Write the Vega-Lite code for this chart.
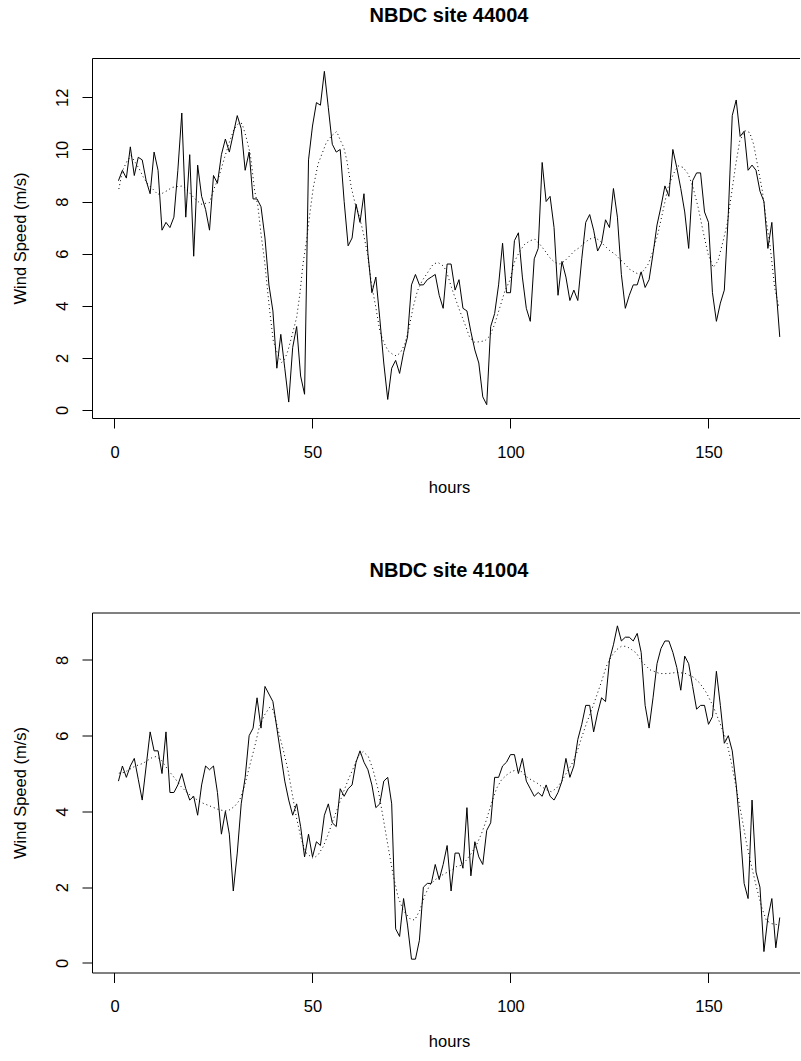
{
  "$schema": "https://vega.github.io/schema/vega-lite/v6.json",
  "background": "white",
  "padding": {"left": 12, "top": 6, "right": 0, "bottom": 0},
  "config": {
    "font": "Liberation Sans",
    "view": {"stroke": null},
    "axis": {"domainColor": "black", "tickColor": "black", "labelColor": "black", "titleColor": "black", "grid": false,
      "labelFont": "Liberation Sans", "titleFont": "Liberation Sans", "labelFontSize": 16.5, "titleFontSize": 16.5,
      "titleFontWeight": "normal", "tickSize": 10, "domainWidth": 1, "tickWidth": 1, "labelFlush": false, "labelOverlap": false},
    "title": {"font": "Liberation Sans", "fontSize": 20, "fontWeight": "bold", "color": "black"}
  },
  "datasets": {
    "top_obs": [
      {"h":1,"v":8.8},{"h":2,"v":9.2},{"h":3,"v":8.9},{"h":4,"v":10.1},{"h":5,"v":9.0},{"h":6,"v":9.7},{"h":7,"v":9.6},{"h":8,"v":8.8},{"h":9,"v":8.3},{"h":10,"v":9.9},
      {"h":11,"v":9.2},{"h":12,"v":6.9},{"h":13,"v":7.2},{"h":14,"v":7.0},{"h":15,"v":7.4},{"h":16,"v":9.2},{"h":17,"v":11.4},{"h":18,"v":7.4},{"h":19,"v":9.8},{"h":20,"v":5.9},
      {"h":21,"v":9.4},{"h":22,"v":8.2},{"h":23,"v":7.7},{"h":24,"v":6.9},{"h":25,"v":9.0},{"h":26,"v":8.7},{"h":27,"v":9.8},{"h":28,"v":10.4},{"h":29,"v":9.9},{"h":30,"v":10.6},
      {"h":31,"v":11.3},{"h":32,"v":10.8},{"h":33,"v":9.2},{"h":34,"v":9.9},{"h":35,"v":8.1},{"h":36,"v":8.1},{"h":37,"v":7.8},{"h":38,"v":6.6},{"h":39,"v":4.8},{"h":40,"v":3.8},
      {"h":41,"v":1.6},{"h":42,"v":2.9},{"h":43,"v":1.6},{"h":44,"v":0.3},{"h":45,"v":2.4},{"h":46,"v":3.2},{"h":47,"v":1.3},{"h":48,"v":0.6},{"h":49,"v":9.6},{"h":50,"v":10.9},
      {"h":51,"v":11.8},{"h":52,"v":11.7},{"h":53,"v":13.0},{"h":54,"v":11.6},{"h":55,"v":10.2},{"h":56,"v":9.9},{"h":57,"v":10.0},{"h":58,"v":8.0},{"h":59,"v":6.3},{"h":60,"v":6.6},
      {"h":61,"v":7.9},{"h":62,"v":7.2},{"h":63,"v":8.3},{"h":64,"v":6.0},{"h":65,"v":4.5},{"h":66,"v":5.1},{"h":67,"v":3.5},{"h":68,"v":1.8},{"h":69,"v":0.4},{"h":70,"v":1.6},
      {"h":71,"v":1.9},{"h":72,"v":1.4},{"h":73,"v":2.2},{"h":74,"v":2.8},{"h":75,"v":4.8},{"h":76,"v":5.2},{"h":77,"v":4.8},{"h":78,"v":4.8},{"h":79,"v":5.0},{"h":80,"v":5.1},
      {"h":81,"v":5.2},{"h":82,"v":4.4},{"h":83,"v":3.9},{"h":84,"v":5.6},{"h":85,"v":5.6},{"h":86,"v":4.6},{"h":87,"v":5.0},{"h":88,"v":3.9},{"h":89,"v":3.8},{"h":90,"v":3.0},
      {"h":91,"v":2.3},{"h":92,"v":1.8},{"h":93,"v":0.5},{"h":94,"v":0.2},{"h":95,"v":3.2},{"h":96,"v":3.7},{"h":97,"v":4.8},{"h":98,"v":6.4},{"h":99,"v":4.5},{"h":100,"v":4.5},
      {"h":101,"v":6.5},{"h":102,"v":6.8},{"h":103,"v":5.1},{"h":104,"v":3.9},{"h":105,"v":3.4},{"h":106,"v":5.8},{"h":107,"v":6.2},{"h":108,"v":9.5},{"h":109,"v":8.0},{"h":110,"v":8.2},
      {"h":111,"v":7.0},{"h":112,"v":4.4},{"h":113,"v":5.7},{"h":114,"v":5.1},{"h":115,"v":4.2},{"h":116,"v":4.6},{"h":117,"v":4.2},{"h":118,"v":5.8},{"h":119,"v":7.2},{"h":120,"v":7.5},
      {"h":121,"v":6.9},{"h":122,"v":6.1},{"h":123,"v":6.4},{"h":124,"v":7.3},{"h":125,"v":7.0},{"h":126,"v":8.5},{"h":127,"v":7.4},{"h":128,"v":5.2},{"h":129,"v":3.9},{"h":130,"v":4.4},
      {"h":131,"v":4.8},{"h":132,"v":4.8},{"h":133,"v":5.3},{"h":134,"v":4.7},{"h":135,"v":5.0},{"h":136,"v":6.0},{"h":137,"v":7.1},{"h":138,"v":7.8},{"h":139,"v":8.6},{"h":140,"v":8.2},
      {"h":141,"v":10.0},{"h":142,"v":9.3},{"h":143,"v":8.5},{"h":144,"v":7.6},{"h":145,"v":6.2},{"h":146,"v":8.8},{"h":147,"v":9.1},{"h":148,"v":9.1},{"h":149,"v":7.6},{"h":150,"v":7.2},
      {"h":151,"v":4.5},{"h":152,"v":3.4},{"h":153,"v":4.1},{"h":154,"v":4.6},{"h":155,"v":7.5},{"h":156,"v":11.3},{"h":157,"v":11.9},{"h":158,"v":10.5},{"h":159,"v":10.7},{"h":160,"v":9.2},
      {"h":161,"v":9.4},{"h":162,"v":9.2},{"h":163,"v":8.4},{"h":164,"v":8.0},{"h":165,"v":6.2},{"h":166,"v":7.2},{"h":167,"v":4.8},{"h":168,"v":2.8}
    ],
    "top_smooth": [
      {"h":1.1,"v":8.48},{"h":2.0,"v":9.18},{"h":3.2,"v":9.56},{"h":4.2,"v":9.76},{"h":6.3,"v":9.24},{"h":7.2,"v":8.96},{"h":8.2,"v":8.71},{"h":9.3,"v":8.54},{"h":10.9,"v":8.28},{"h":12.0,"v":8.31},
      {"h":13.2,"v":8.41},{"h":14.5,"v":8.54},{"h":15.6,"v":8.57},{"h":17.3,"v":8.6},{"h":18.5,"v":8.41},{"h":20.4,"v":8.09},{"h":21.9,"v":7.9},{"h":24.0,"v":7.96},{"h":25.1,"v":8.48},{"h":26.3,"v":8.92},
      {"h":27.8,"v":9.69},{"h":29.0,"v":10.27},{"h":30.1,"v":10.75},{"h":31.3,"v":11.0},{"h":32.2,"v":11.0},{"h":33.2,"v":10.5},{"h":34.3,"v":9.82},{"h":35.4,"v":8.41},{"h":36.2,"v":7.84},{"h":37.0,"v":6.75},
      {"h":37.9,"v":5.72},{"h":39.1,"v":3.93},{"h":40.1,"v":2.65},{"h":40.9,"v":2.27},{"h":42.2,"v":1.82},{"h":43.0,"v":1.95},{"h":43.8,"v":2.27},{"h":44.9,"v":2.9},{"h":46.0,"v":3.55},{"h":46.8,"v":4.44},
      {"h":47.6,"v":5.6},{"h":48.5,"v":6.5},{"h":49.3,"v":7.5},{"h":50.2,"v":8.54},{"h":51.4,"v":9.44},{"h":52.7,"v":9.95},{"h":53.5,"v":10.27},{"h":54.8,"v":10.52},{"h":56.1,"v":10.69},{"h":57.1,"v":10.33},
      {"h":57.9,"v":10.08},{"h":58.7,"v":9.56},{"h":59.8,"v":8.54},{"h":60.8,"v":7.9},{"h":61.9,"v":7.39},{"h":62.9,"v":6.75},{"h":63.9,"v":5.98},{"h":64.9,"v":4.83},{"h":66.0,"v":3.93},{"h":67.0,"v":3.03},
      {"h":68.0,"v":2.59},{"h":69.1,"v":2.27},{"h":70.2,"v":2.14},{"h":71.2,"v":2.07},{"h":72.2,"v":2.2},{"h":73.3,"v":2.52},{"h":74.4,"v":3.16},{"h":75.4,"v":3.93},{"h":76.5,"v":4.57},{"h":77.7,"v":4.96},
      {"h":78.8,"v":5.21},{"h":80.5,"v":5.6},{"h":81.7,"v":5.66},{"h":83.0,"v":5.53},{"h":83.8,"v":5.34},{"h":85.1,"v":4.7},{"h":86.0,"v":4.31},{"h":87.2,"v":3.8},{"h":88.5,"v":3.29},{"h":89.7,"v":2.78},
      {"h":91.0,"v":2.59},{"h":92.2,"v":2.62},{"h":93.5,"v":2.65},{"h":94.8,"v":2.84},{"h":96.0,"v":3.29},{"h":97.3,"v":3.93},{"h":98.6,"v":4.57},{"h":99.8,"v":4.96},{"h":101.1,"v":5.72},{"h":102.4,"v":6.11},
      {"h":103.6,"v":6.36},{"h":104.9,"v":6.49},{"h":106.1,"v":6.56},{"h":107.4,"v":6.36},{"h":108.7,"v":6.11},{"h":109.9,"v":5.85},{"h":111.2,"v":5.66},{"h":112.5,"v":5.6},{"h":113.7,"v":5.72},{"h":115.0,"v":5.92},
      {"h":116.2,"v":6.11},{"h":117.5,"v":6.24},{"h":118.8,"v":6.43},{"h":120.0,"v":6.56},{"h":121.3,"v":6.62},{"h":122.6,"v":6.49},{"h":123.8,"v":6.3},{"h":125.1,"v":6.11},{"h":126.4,"v":5.98},{"h":127.6,"v":5.79},
      {"h":128.9,"v":5.6},{"h":130.1,"v":5.4},{"h":131.4,"v":5.28},{"h":132.5,"v":5.2},{"h":133.5,"v":5.33},{"h":134.8,"v":5.6},{"h":136.0,"v":6.11},{"h":137.3,"v":6.81},{"h":138.5,"v":7.64},{"h":139.8,"v":8.54},
      {"h":141.1,"v":9.05},{"h":142.3,"v":9.37},{"h":143.6,"v":9.31},{"h":144.9,"v":9.05},{"h":146.1,"v":8.54},{"h":147.4,"v":7.77},{"h":148.6,"v":6.88},{"h":149.9,"v":5.98},{"h":151.2,"v":5.47},{"h":152.4,"v":5.72},
      {"h":153.7,"v":6.49},{"h":154.7,"v":7.13},{"h":155.8,"v":8.28},{"h":156.9,"v":9.44},{"h":157.9,"v":10.33},{"h":159.2,"v":10.72},{"h":160.4,"v":10.65},{"h":161.4,"v":10.2},{"h":162.5,"v":9.31},{"h":163.6,"v":8.41},
      {"h":164.6,"v":7.26},{"h":165.6,"v":6.24},{"h":166.7,"v":4.7},{"h":167.8,"v":3.93}
    ],
    "bot_obs": [
      {"h":1,"v":4.8},{"h":2,"v":5.2},{"h":3,"v":4.9},{"h":4,"v":5.2},{"h":5,"v":5.4},{"h":6,"v":4.85},{"h":7,"v":4.3},{"h":8,"v":5.2},{"h":9,"v":6.1},{"h":10,"v":5.6},
      {"h":11,"v":5.6},{"h":12,"v":5.0},{"h":13,"v":6.1},{"h":14,"v":4.5},{"h":15,"v":4.5},{"h":16,"v":4.7},{"h":17,"v":5.0},{"h":18,"v":4.6},{"h":19,"v":4.3},{"h":20,"v":4.4},
      {"h":21,"v":3.9},{"h":22,"v":4.7},{"h":23,"v":5.2},{"h":24,"v":5.1},{"h":25,"v":5.2},{"h":26,"v":4.5},{"h":27,"v":3.4},{"h":28,"v":4.0},{"h":29,"v":3.4},{"h":30,"v":1.9},
      {"h":31,"v":2.9},{"h":32,"v":4.2},{"h":33,"v":4.9},{"h":34,"v":6.0},{"h":35,"v":6.2},{"h":36,"v":7.0},{"h":37,"v":6.2},{"h":38,"v":7.3},{"h":39,"v":7.1},{"h":40,"v":6.9},
      {"h":41,"v":6.2},{"h":42,"v":5.5},{"h":43,"v":4.8},{"h":44,"v":4.3},{"h":45,"v":3.9},{"h":46,"v":4.2},{"h":47,"v":3.6},{"h":48,"v":2.8},{"h":49,"v":3.4},{"h":50,"v":2.8},
      {"h":51,"v":3.2},{"h":52,"v":3.1},{"h":53,"v":3.9},{"h":54,"v":4.2},{"h":55,"v":3.7},{"h":56,"v":3.6},{"h":57,"v":4.6},{"h":58,"v":4.4},{"h":59,"v":4.6},{"h":60,"v":4.7},
      {"h":61,"v":5.3},{"h":62,"v":5.6},{"h":63,"v":5.3},{"h":64,"v":5.1},{"h":65,"v":4.7},{"h":66,"v":4.1},{"h":67,"v":4.2},{"h":68,"v":4.8},{"h":69,"v":4.9},{"h":70,"v":4.2},
      {"h":71,"v":0.9},{"h":72,"v":0.7},{"h":73,"v":1.7},{"h":74,"v":1.0},{"h":75,"v":0.1},{"h":76,"v":0.1},{"h":77,"v":0.6},{"h":78,"v":2.0},{"h":79,"v":2.1},{"h":80,"v":2.1},
      {"h":81,"v":2.6},{"h":82,"v":2.2},{"h":83,"v":2.6},{"h":84,"v":3.1},{"h":85,"v":1.9},{"h":86,"v":2.9},{"h":87,"v":2.9},{"h":88,"v":2.5},{"h":89,"v":4.1},{"h":90,"v":2.3},
      {"h":91,"v":3.2},{"h":92,"v":2.8},{"h":93,"v":2.6},{"h":94,"v":3.5},{"h":95,"v":3.7},{"h":96,"v":4.9},{"h":97,"v":4.9},{"h":98,"v":5.2},{"h":99,"v":5.3},{"h":100,"v":5.5},
      {"h":101,"v":5.5},{"h":102,"v":5.0},{"h":103,"v":5.4},{"h":104,"v":4.8},{"h":105,"v":4.6},{"h":106,"v":4.4},{"h":107,"v":4.5},{"h":108,"v":4.4},{"h":109,"v":4.7},{"h":110,"v":4.4},
      {"h":111,"v":4.3},{"h":112,"v":4.5},{"h":113,"v":4.8},{"h":114,"v":5.4},{"h":115,"v":4.9},{"h":116,"v":5.2},{"h":117,"v":5.9},{"h":118,"v":6.3},{"h":119,"v":6.8},{"h":120,"v":6.8},
      {"h":121,"v":6.1},{"h":122,"v":6.6},{"h":123,"v":7.0},{"h":124,"v":6.9},{"h":125,"v":8.0},{"h":126,"v":8.4},{"h":127,"v":8.9},{"h":128,"v":8.5},{"h":129,"v":8.6},{"h":130,"v":8.6},
      {"h":131,"v":8.5},{"h":132,"v":8.7},{"h":133,"v":8.2},{"h":134,"v":6.8},{"h":135,"v":6.2},{"h":136,"v":7.0},{"h":137,"v":7.9},{"h":138,"v":8.3},{"h":139,"v":8.5},{"h":140,"v":8.5},
      {"h":141,"v":8.2},{"h":142,"v":7.8},{"h":143,"v":7.2},{"h":144,"v":8.1},{"h":145,"v":7.9},{"h":146,"v":7.3},{"h":147,"v":6.7},{"h":148,"v":6.8},{"h":149,"v":6.8},{"h":150,"v":6.3},
      {"h":151,"v":6.5},{"h":152,"v":7.7},{"h":153,"v":6.8},{"h":154,"v":5.8},{"h":155,"v":6.0},{"h":156,"v":5.6},{"h":157,"v":4.7},{"h":158,"v":3.5},{"h":159,"v":2.1},{"h":160,"v":1.7},
      {"h":161,"v":4.3},{"h":162,"v":2.4},{"h":163,"v":2.0},{"h":164,"v":0.3},{"h":165,"v":1.2},{"h":166,"v":1.7},{"h":167,"v":0.4},{"h":168,"v":1.2}
    ],
    "bot_smooth": [
      {"h":1.1,"v":5.01},{"h":2.5,"v":5.03},{"h":5.1,"v":5.19},{"h":7.2,"v":5.27},{"h":9.3,"v":5.41},{"h":10.5,"v":5.45},{"h":11.8,"v":5.36},{"h":13.5,"v":5.1},{"h":15.2,"v":4.88},{"h":16.8,"v":4.66},
      {"h":18.5,"v":4.48},{"h":20.2,"v":4.35},{"h":22.3,"v":4.22},{"h":24.4,"v":4.13},{"h":26.5,"v":4.04},{"h":28.6,"v":4.01},{"h":30.3,"v":4.13},{"h":31.6,"v":4.3},{"h":32.8,"v":4.66},{"h":34.1,"v":5.19},
      {"h":35.4,"v":5.71},{"h":36.6,"v":6.24},{"h":37.9,"v":6.55},{"h":39.2,"v":6.75},{"h":40.1,"v":6.68},{"h":41.3,"v":6.16},{"h":42.6,"v":5.63},{"h":43.8,"v":5.1},{"h":44.7,"v":4.57},{"h":45.9,"v":3.86},
      {"h":47.2,"v":3.25},{"h":48.5,"v":2.89},{"h":50.2,"v":2.76},{"h":51.4,"v":2.85},{"h":52.7,"v":3.07},{"h":53.9,"v":3.38},{"h":55.2,"v":3.77},{"h":56.5,"v":4.13},{"h":57.7,"v":4.48},{"h":59.0,"v":4.83},
      {"h":60.3,"v":5.14},{"h":61.5,"v":5.45},{"h":62.8,"v":5.58},{"h":64.1,"v":5.45},{"h":65.3,"v":5.1},{"h":66.6,"v":4.57},{"h":67.8,"v":3.86},{"h":69.1,"v":3.07},{"h":70.3,"v":2.36},{"h":71.6,"v":1.75},
      {"h":72.9,"v":1.39},{"h":74.6,"v":1.17},{"h":75.8,"v":1.13},{"h":77.1,"v":1.39},{"h":78.4,"v":1.79},{"h":79.6,"v":2.05},{"h":80.9,"v":2.19},{"h":82.1,"v":2.28},{"h":83.4,"v":2.36},{"h":85.1,"v":2.45},
      {"h":86.3,"v":2.54},{"h":87.6,"v":2.58},{"h":88.9,"v":2.72},{"h":90.1,"v":2.89},{"h":91.4,"v":3.11},{"h":92.7,"v":3.42},{"h":93.9,"v":3.77},{"h":95.2,"v":4.22},{"h":96.5,"v":4.61},{"h":97.7,"v":4.83},
      {"h":99.0,"v":4.96},{"h":100.2,"v":5.05},{"h":101.5,"v":5.1},{"h":102.8,"v":5.05},{"h":104.0,"v":4.92},{"h":105.3,"v":4.83},{"h":106.6,"v":4.76},{"h":107.8,"v":4.66},{"h":109.1,"v":4.57},{"h":110.3,"v":4.52},
      {"h":111.6,"v":4.61},{"h":112.9,"v":4.79},{"h":114.1,"v":5.01},{"h":115.4,"v":5.23},{"h":116.7,"v":5.54},{"h":117.9,"v":5.93},{"h":119.2,"v":6.33},{"h":120.5,"v":6.68},{"h":121.7,"v":7.04},{"h":123.0,"v":7.43},
      {"h":124.2,"v":7.83},{"h":125.5,"v":8.1},{"h":126.8,"v":8.27},{"h":128.0,"v":8.36},{"h":129.3,"v":8.36},{"h":130.6,"v":8.27},{"h":131.8,"v":8.18},{"h":133.1,"v":7.96},{"h":135.2,"v":7.74},{"h":137.7,"v":7.64},
      {"h":139.8,"v":7.64},{"h":141.9,"v":7.67},{"h":144.0,"v":7.65},{"h":146.1,"v":7.55},{"h":147.8,"v":7.39},{"h":149.5,"v":7.13},{"h":151.2,"v":6.77},{"h":152.9,"v":6.33},{"h":154.5,"v":5.89},{"h":155.8,"v":5.27},
      {"h":157.1,"v":4.57},{"h":158.4,"v":3.86},{"h":159.6,"v":3.16},{"h":160.9,"v":2.54},{"h":162.1,"v":2.01},{"h":163.4,"v":1.48},{"h":164.6,"v":1.13},{"h":165.8,"v":1.04},{"h":168.0,"v":1.0}
    ]
  },
  "spacing": 194.5,
  "bounds": "flush",
  "vconcat": [
    {
      "title": {"text": "NBDC site 44004", "anchor": "middle", "dx": 3, "offset": 16, "baseline": "alphabetic"},
      "width": 708, "height": 360,
      "encoding": {
        "y": {"field": "v", "type": "quantitative", "scale": {"domain": [-0.312, 13.512], "nice": false, "zero": false},
          "axis": {"orient": "left", "values": [0, 2, 4, 6, 8, 10, 12], "title": "Wind Speed (m/s)", "labelAngle": -90, "labelAlign": "center",
            "labelBaseline": "alphabetic", "labelPadding": 14.7, "titleX": -67, "titleY": 180, "titleAngle": -90, "titleBaseline": "alphabetic", "titleAlign": "center"}}
      },
      "layer": [
        {
          "data": {"name": "top_obs"},
          "mark": {"type": "line", "color": "black", "strokeWidth": 1},
          "encoding": {
            "x": {"field": "h", "type": "quantitative", "scale": {"domain": [-5.68, 173.11], "nice": false, "zero": false},
              "axis": {"orient": "bottom", "values": [0, 50, 100, 150], "title": "hours", "labelPadding": 29.4, "labelBaseline": "alphabetic",
                "titleX": 357, "titleY": 74, "titleBaseline": "alphabetic", "titleAnchor": "middle", "titleAlign": "center"}}
          }
        },
        {
          "data": {"name": "top_smooth"},
          "mark": {"type": "line", "color": "black", "strokeWidth": 1, "strokeDash": [1, 3]},
          "encoding": {
            "x": {"field": "h", "type": "quantitative", "scale": {"domain": [-5.68, 173.11], "nice": false, "zero": false},
              "axis": {"orient": "top", "labels": false, "ticks": false, "title": null, "domain": true}}
          }
        }
      ]
    },
    {
      "title": {"text": "NBDC site 41004", "anchor": "middle", "dx": 3, "offset": 16, "baseline": "alphabetic"},
      "width": 708, "height": 360,
      "encoding": {
        "y": {"field": "v", "type": "quantitative", "scale": {"domain": [-0.252, 9.252], "nice": false, "zero": false},
          "axis": {"orient": "left", "values": [0, 2, 4, 6, 8], "title": "Wind Speed (m/s)", "labelAngle": -90, "labelAlign": "center",
            "labelBaseline": "alphabetic", "labelPadding": 14.7, "titleX": -67, "titleY": 180, "titleAngle": -90, "titleBaseline": "alphabetic", "titleAlign": "center"}}
      },
      "layer": [
        {
          "data": {"name": "bot_obs"},
          "mark": {"type": "line", "color": "black", "strokeWidth": 1},
          "encoding": {
            "x": {"field": "h", "type": "quantitative", "scale": {"domain": [-5.68, 173.11], "nice": false, "zero": false},
              "axis": {"orient": "bottom", "values": [0, 50, 100, 150], "title": "hours", "labelPadding": 29.4, "labelBaseline": "alphabetic",
                "titleX": 357, "titleY": 74, "titleBaseline": "alphabetic", "titleAnchor": "middle", "titleAlign": "center"}}
          }
        },
        {
          "data": {"name": "bot_smooth"},
          "mark": {"type": "line", "color": "black", "strokeWidth": 1, "strokeDash": [1, 3]},
          "encoding": {
            "x": {"field": "h", "type": "quantitative", "scale": {"domain": [-5.68, 173.11], "nice": false, "zero": false},
              "axis": {"orient": "top", "labels": false, "ticks": false, "title": null, "domain": true}}
          }
        }
      ]
    }
  ]
}
